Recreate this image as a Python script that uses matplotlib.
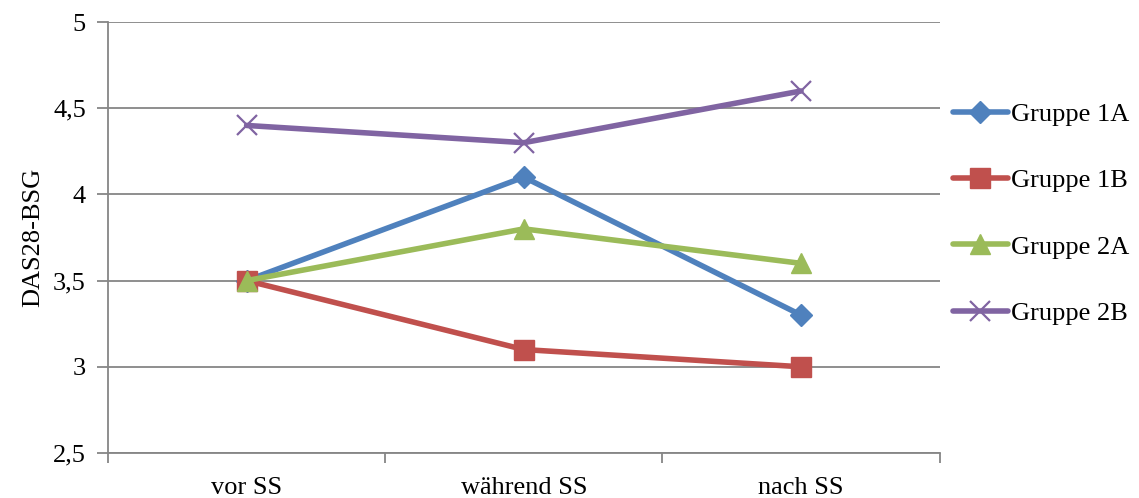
import matplotlib.pyplot as plt
from matplotlib.ticker import FixedLocator, FuncFormatter

plt.rcParams['font.family'] = ['Liberation Serif', 'DejaVu Serif']

# Data
categories = ['vor SS', 'während SS', 'nach SS']
gruppe_1a = [3.5, 4.1, 3.3]
gruppe_1b = [3.5, 3.1, 3.0]
gruppe_2a = [3.5, 3.8, 3.6]
gruppe_2b = [4.4, 4.3, 4.6]
series_names = ['Gruppe 1A', 'Gruppe 1B', 'Gruppe 2A', 'Gruppe 2B']

styles = [
    dict(color='#4F81BD', marker='D', markersize=11),
    dict(color='#C0504D', marker='s', markersize=14),
    dict(color='#9BBB59', marker='^', markersize=15),
    dict(color='#8064A2', marker='x', markersize=14, markeredgewidth=1.6),
]

fs = 19
fig = plt.figure(figsize=(11.39, 4.98), dpi=100)
ax = fig.add_axes([0.0948, 0.0904, 0.7302, 0.8654])

x = range(len(categories))
for name, vals, st in zip(series_names, [gruppe_1a, gruppe_1b, gruppe_2a, gruppe_2b], styles):
    ax.plot(x, vals, label=name, linewidth=4, solid_capstyle='round', **st)

grid_col = '#868686'
ax.set_xlim(-0.5, 2.5)
ax.set_ylim(2.5, 5)
ax.set_yticks([2.5, 3, 3.5, 4, 4.5, 5])
ax.yaxis.set_major_formatter(FuncFormatter(lambda v, p: ('%g' % v).replace('.', ',')))
ax.grid(axis='y', color=grid_col, linewidth=1.3)
ax.set_axisbelow(True)

# category boundaries as tick marks, labels at centers
ax.xaxis.set_major_locator(FixedLocator([-0.5, 0.5, 1.5, 2.5]))
ax.xaxis.set_minor_locator(FixedLocator([0, 1, 2]))
ax.set_xticklabels([], minor=False)
ax.set_xticklabels(categories, minor=True)
ax.tick_params(axis='x', which='major', length=7, width=1.3, color=grid_col)
ax.tick_params(axis='x', which='minor', length=0, pad=17, labelsize=fs)
ax.tick_params(axis='y', length=8, width=1.3, color=grid_col, labelsize=fs, pad=8)

for s in ['top', 'right']:
    ax.spines[s].set_visible(False)
for s in ['left', 'bottom']:
    ax.spines[s].set_color(grid_col)
    ax.spines[s].set_linewidth(1.3)

ax.set_ylabel('DAS28-BSG', fontsize=fs, labelpad=6)

ax.legend(loc='center left', bbox_to_anchor=(1.0156, 0.555), frameon=False,
          borderpad=0, borderaxespad=0, fontsize=fs, handlelength=2.1,
          handletextpad=0.1, labelspacing=1.62)

plt.savefig('out.png', dpi=100)
